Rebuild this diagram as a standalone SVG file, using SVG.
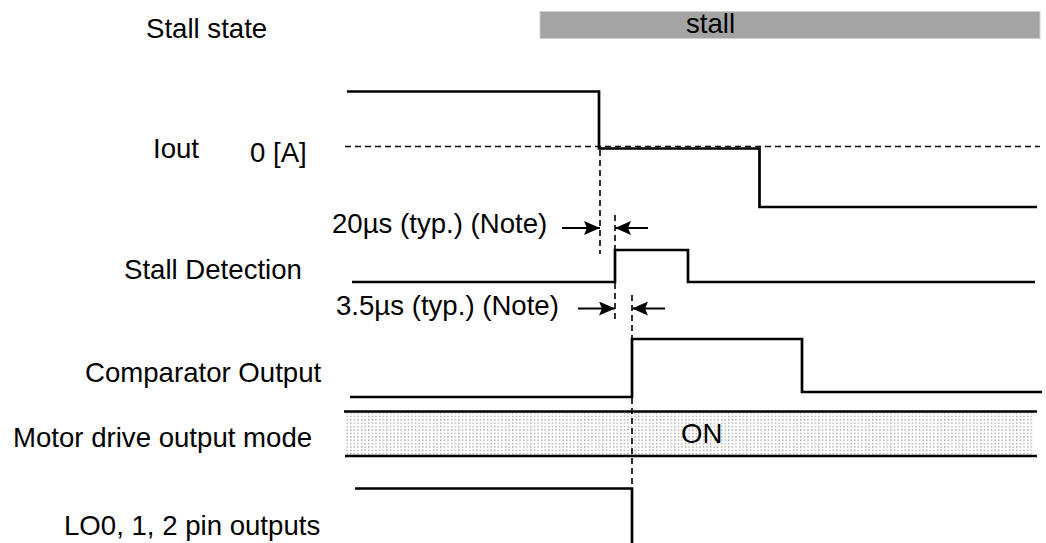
<svg xmlns="http://www.w3.org/2000/svg" width="1046" height="543" viewBox="0 0 1046 543">
<defs>
<style>
text{font-family:"Liberation Sans",Arial,sans-serif;font-size:27.6px;fill:#000}
.w{fill:none;stroke:#000;stroke-width:2.7;stroke-linejoin:miter;stroke-linecap:butt}
.d{fill:none;stroke:#000;stroke-width:1.6;stroke-dasharray:6 4}
.ar{fill:none;stroke:#000;stroke-width:2}
</style>
<pattern id="dots" x="0" y="0" width="3.6" height="3.4" patternUnits="userSpaceOnUse">
<rect width="3.6" height="3.4" fill="#fff"/>
<rect x="1" y="1" width="1.2" height="1.2" fill="#8a8a8a"/>
</pattern>
<marker id="ah" viewBox="0 0 16 14" refX="16" refY="7" markerWidth="16" markerHeight="14" markerUnits="userSpaceOnUse" orient="auto">
<path d="M0,0 L16,7 L0,14 L3,7 Z" fill="#000"/>
</marker>
</defs>

<g id="labels">
<text x="146" y="38">Stall state</text>
<text x="153" y="158">Iout</text>
<text x="250" y="162">0 [A]</text>
<text x="124" y="279">Stall Detection</text>
<text x="85" y="382">Comparator Output</text>
<text x="13" y="447">Motor drive output mode</text>
<text x="64" y="535">LO0, 1, 2 pin outputs</text>
</g>

<g id="stall-state">
<rect x="540" y="11.5" width="500" height="27" fill="#a4a4a4" stroke="#cfcfcf" stroke-width="1"/>
<text x="686" y="33">stall</text>
</g>

<g id="iout">
<line class="d" x1="345" y1="146.5" x2="1040" y2="146.5"/>
<polyline class="w" points="347,91.5 599,91.5 599,148.5 759.5,148.5 759.5,207 1037,207"/>
</g>

<g id="stall-detection">
<polyline class="w" points="352,282 615,282 615,250 688,250 688,282 1035,282"/>
</g>

<g id="comparator-output">
<polyline class="w" points="350,397 632,397 632,339 802,339 802,392 1042,392"/>
</g>

<g id="motor-drive-mode">
<rect x="346" y="411.5" width="687" height="44.5" fill="url(#dots)"/>
<line class="w" x1="344" y1="411.5" x2="1037" y2="411.5"/>
<line class="w" x1="345" y1="456" x2="1037" y2="456"/>
<text x="681" y="443">ON</text>
</g>

<g id="lo-outputs">
<polyline class="w" points="355,488.5 632,488.5 632,543"/>
</g>

<g id="timing-markers">
<line class="d" x1="600" y1="150" x2="600" y2="254"/>
<line class="d" x1="615" y1="215" x2="615" y2="250"/>
<line class="d" x1="615" y1="283" x2="615" y2="322"/>
<line class="d" x1="632" y1="295" x2="632" y2="338"/>
<line class="d" x1="632" y1="398" x2="632" y2="488"/>
<line class="ar" x1="562" y1="228" x2="600" y2="228" marker-end="url(#ah)"/>
<line class="ar" x1="648" y1="228" x2="615" y2="228" marker-end="url(#ah)"/>
<text x="332" y="233">20µs (typ.) (Note)</text>
<line class="ar" x1="578" y1="308.5" x2="615" y2="308.5" marker-end="url(#ah)"/>
<line class="ar" x1="665" y1="308.5" x2="632" y2="308.5" marker-end="url(#ah)"/>
<text x="336" y="315">3.5µs (typ.) (Note)</text>
</g>
</svg>
